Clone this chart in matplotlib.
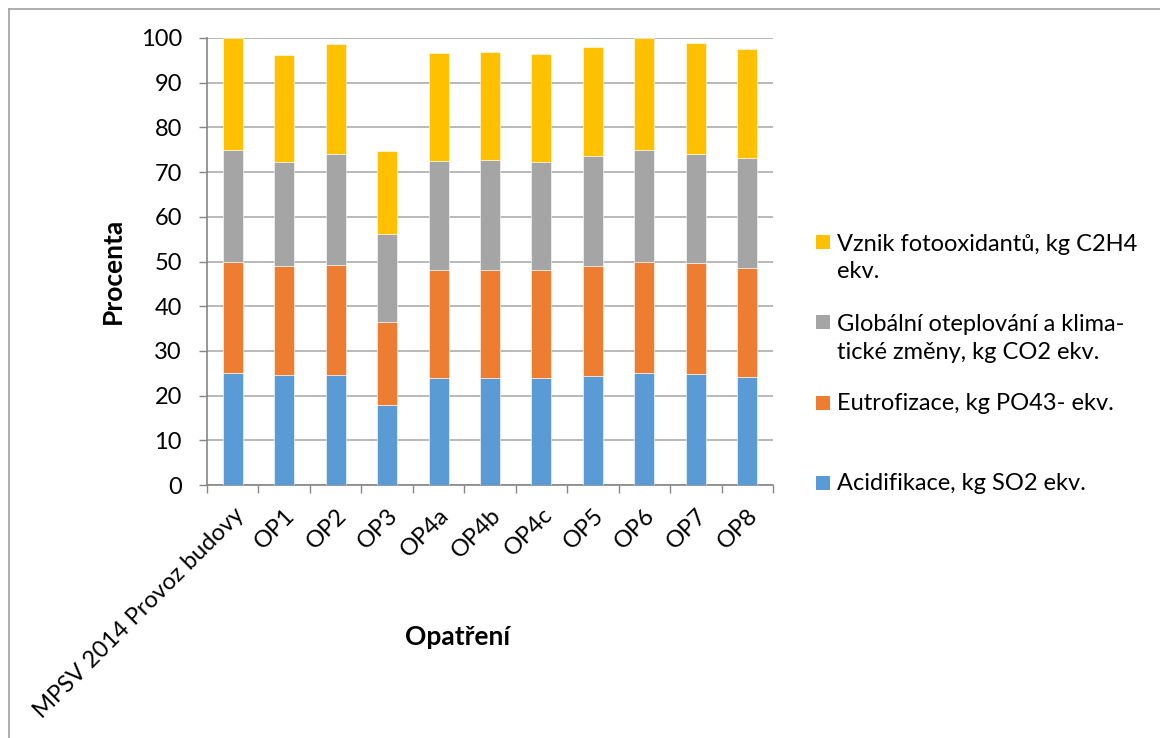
import matplotlib
matplotlib.use("Agg")
import matplotlib.pyplot as plt
from matplotlib.lines import Line2D
import numpy as np

categories = ["MPSV 2014 Provoz budovy", "OP1", "OP2", "OP3", "OP4a", "OP4b",
              "OP4c", "OP5", "OP6", "OP7", "OP8"]

acidifikace = [25.0, 24.7, 24.5, 17.9, 24.0, 24.0, 24.0, 24.45, 25.0, 24.9, 24.2]
eutrofizace = [25.0, 24.3, 24.75, 18.6, 24.2, 24.2, 24.2, 24.5, 25.0, 24.7, 24.45]
oteplovani = [25.0, 23.2, 24.7, 19.7, 24.2, 24.45, 24.15, 24.6, 25.0, 24.5, 24.6]
fotooxidanty = [25.0, 24.1, 24.6, 18.5, 24.2, 24.2, 24.15, 24.5, 25.0, 24.7, 24.35]

series_labels = [
    "Acidifikace, kg SO2 ekv.",
    "Eutrofizace, kg PO43- ekv.",
    "Globální oteplování a klima-\ntické změny, kg CO2 ekv.",
    "Vznik fotooxidantů, kg C2H4\nekv.",
]
colors = ["#5B9BD5", "#ED7D31", "#A5A5A5", "#FFC000"]

y_ticks = list(range(0, 101, 10))

plt.rcParams["font.family"] = ["Lato", "DejaVu Sans"]

W, H = 1160, 738
fig = plt.figure(figsize=(W / 100, H / 100), dpi=100)
ax = fig.add_axes([207 / W, 1 - 485 / H, (773 - 207) / W, (485 - 38) / H])

x = np.arange(len(categories))
bottom = np.zeros(len(categories))
for vals, col in zip([acidifikace, eutrofizace, oteplovani, fotooxidanty], colors):
    ax.bar(x, vals, bottom=bottom, width=0.39, color=col, edgecolor="white",
           linewidth=0.4, zorder=3)
    bottom += np.array(vals)

ax.set_xlim(-0.5, len(categories) - 0.5)
ax.set_ylim(0, 100)
ax.set_yticks(y_ticks)
ax.set_yticklabels([str(v) for v in y_ticks], fontsize=17)
ax.grid(axis="y", color="#A6A6A6", linewidth=1.1, zorder=0)
ax.set_axisbelow(True)

for side in ["top", "right"]:
    ax.spines[side].set_visible(False)
for side in ["left", "bottom"]:
    ax.spines[side].set_color("#868686")
    ax.spines[side].set_linewidth(1.2)

ax.tick_params(axis="y", length=6, width=1, color="#868686", pad=12)

# category boundary ticks and rotated category labels
ax.set_xticks(np.arange(-0.5, len(categories), 1.0))
ax.set_xticklabels([])
ax.tick_params(axis="x", which="major", length=6, width=1, color="#868686")
ax.set_xticks(x, minor=True)
ax.set_xticklabels(categories, minor=True, rotation=45, ha="right", va="top",
                   rotation_mode="anchor", fontsize=17)
ax.tick_params(axis="x", which="minor", length=0, pad=14)

# axis titles
fig.text(113 / W, 1 - 271 / H, "Procenta", fontsize=19, fontweight="bold",
         rotation=90, ha="center", va="center")
fig.text(458 / W, 1 - 637 / H, "Opatření", fontsize=19, fontweight="bold",
         ha="center", va="center")

# legend: colour keys beside the first line of each entry
key_y = [483, 403, 322, 241.5]
text_y = [483, 403, 338.5, 258]
for c, lab, ky, ty in zip(colors, series_labels, key_y, text_y):
    fig.patches.append(plt.Rectangle((816 / W, 1 - (ky + 7) / H), 14 / W, 14 / H,
                                     transform=fig.transFigure, facecolor=c,
                                     edgecolor="none"))
    fig.text(837 / W, 1 - ty / H, lab, fontsize=17, va="center", ha="left",
             linespacing=1.4)

# outer frame lines
fig.add_artist(Line2D([9 / W, 1], [1 - 9 / H, 1 - 9 / H], color="#A0A0A0",
                      linewidth=1.2, transform=fig.transFigure))
fig.add_artist(Line2D([9 / W, 9 / W], [0, 1 - 9 / H], color="#A0A0A0",
                      linewidth=1.2, transform=fig.transFigure))

fig.savefig("out.png", dpi=100, facecolor="white")
